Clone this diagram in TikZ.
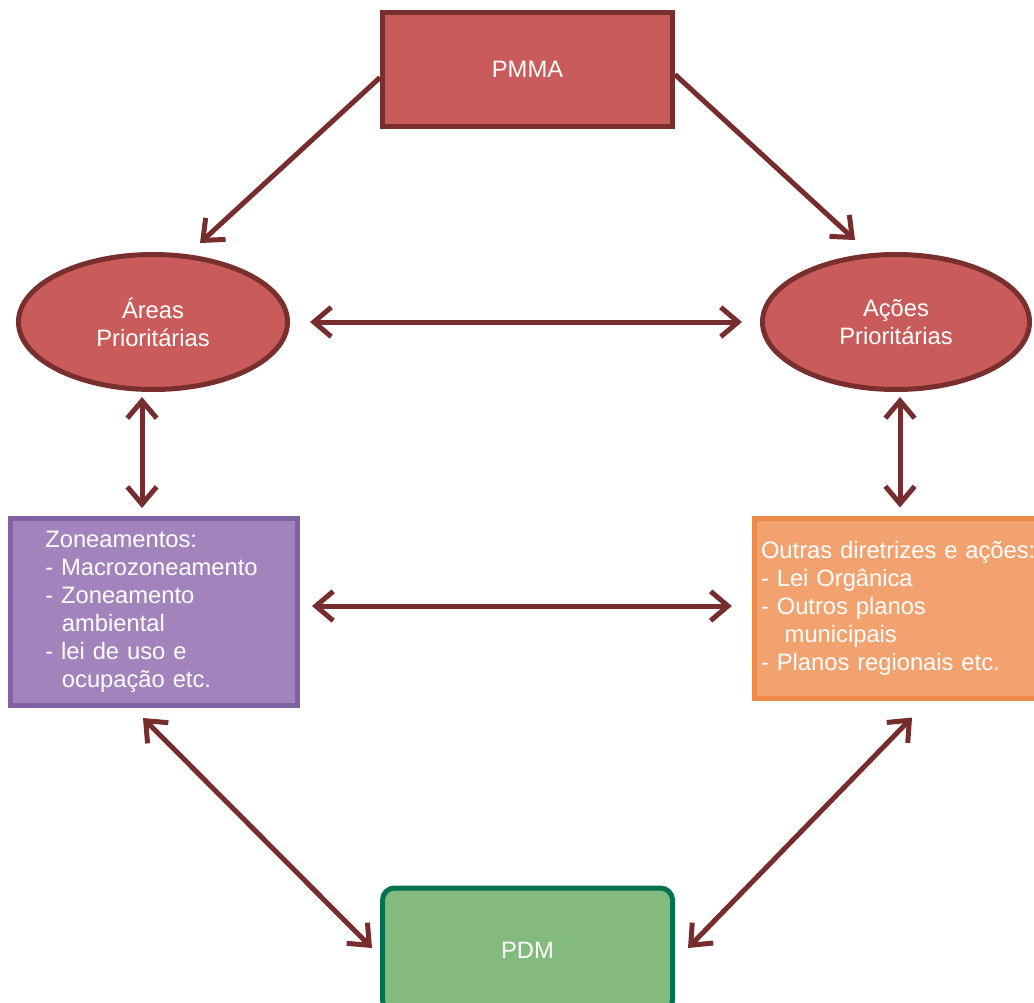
\documentclass[tikz,border=0pt]{standalone}
\usepackage{fontspec}
\setmainfont{Liberation Sans}
\usetikzlibrary{arrows.meta,shapes.geometric,calc}
\definecolor{wine}{HTML}{772D2D}
\definecolor{redfill}{HTML}{C95C5B}
\definecolor{redline}{HTML}{7A2F2F}
\definecolor{violetfill}{HTML}{A283BB}
\definecolor{violetline}{HTML}{8063A3}
\definecolor{orangefill}{HTML}{F2A26F}
\definecolor{orangeline}{HTML}{EE8A4A}
\definecolor{greenfill}{HTML}{83BA7E}
\definecolor{greenline}{HTML}{00724F}
\begin{document}
\begin{tikzpicture}[x=0.75pt,y=-0.75pt,
  every node/.style={font=\fontsize{17.8}{21}\selectfont, text=white},
  block/.style={draw, line width=3.75pt, inner sep=0pt},
  oval/.style={ellipse, draw=redline, fill=redfill, line width=3.75pt, inner sep=0pt, align=center},
  link/.style={draw=wine, line width=3.75pt, -{Straight Barb[length=13pt,width=22pt]}},
  twoway/.style={link, {Straight Barb[length=13pt,width=22pt]}-{Straight Barb[length=13pt,width=22pt]}}]
\useasboundingbox (0,0) rectangle (1034,1002);

% nodes
\node[block, draw=redline, fill=redfill, minimum width=217.5pt, minimum height=85.5pt]
  (pmma) at (527.5,69.5) {PMMA};
\node[oval, minimum width=201.75pt, minimum height=101.25pt]
  (areas) at (153,322) {Áreas\\Prioritárias};
\node[oval, minimum width=200.25pt, minimum height=101.25pt]
  (acoes) at (896,322) {Ações\\Prioritárias};
\node[block, draw=violetline, fill=violetfill, minimum width=215.25pt, minimum height=140.25pt,
      text width=163pt, align=left]
  (zone) at (154,612) {Zoneamentos:\\- Macrozoneamento\\- Zoneamento\\\hspace*{0.7em}ambiental\\- lei de uso e\\\hspace*{0.7em}ocupação etc.};
\node[block, draw=orangeline, fill=orangefill, minimum width=235pt, minimum height=135pt,
      text width=225pt, align=left]
  (outras) at (911,608) {Outras diretrizes e ações:\\- Lei Orgânica\\- Outros planos\\\hspace*{1em}municipais\\- Planos regionais etc.};
\node[block, draw=greenline, fill=greenfill, rounded corners=9pt, minimum width=217.5pt, minimum height=93pt]
  (pdm) at (527.5,950) {PDM};

% connectors
\draw[link] ($(pmma.west)+(0,8)$) -- ($(areas.north)+(47,-9)$);
\draw[link] ($(pmma.east)+(0,5)$) -- ($(acoes.north)+(-41,-12)$);
\draw[twoway] ($(areas.east)+(20,0)$) -- ($(acoes.west)+(-18,0)$);
\draw[twoway] ($(areas.south)+(-11,5)$) -- ($(zone.north)+(-12,-8)$);
\draw[twoway] ($(acoes.south)+(4,5)$) -- ($(outras.north)+(-11,-8)$);
\draw[twoway] ($(zone.east)+(12,-6)$) -- ($(outras.west)+(-20,-2)$);
\draw[twoway] ($(zone.south)+(-11,10)$) -- ($(pdm.west)+(-8,-2)$);
\draw[twoway] ($(outras.south)+(1,17)$) -- ($(pdm.east)+(13,-2)$);
\end{tikzpicture}
\end{document}
